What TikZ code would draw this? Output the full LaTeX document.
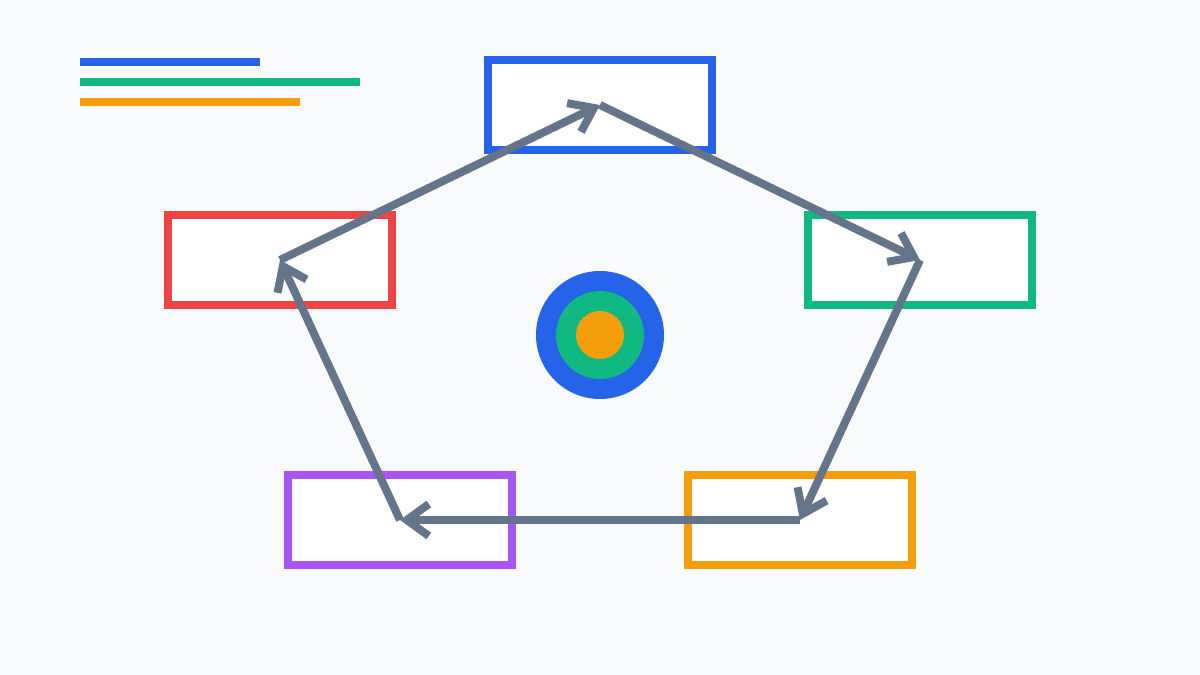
\documentclass[tikz,border=0pt]{standalone}
\usetikzlibrary{arrows.meta}
\definecolor{bgc}{HTML}{F8FAFC}
\definecolor{cblue}{HTML}{2563EB}
\definecolor{cgreen}{HTML}{10B981}
\definecolor{corange}{HTML}{F59E0B}
\definecolor{cred}{HTML}{EF4444}
\definecolor{cpurple}{HTML}{A855F7}
\definecolor{cgray}{HTML}{64748B}
\begin{document}
\begin{tikzpicture}[x=1pt,y=-1pt]
  \tikzset{stage/.style={draw,fill=white,line width=8pt,minimum width=224pt,minimum height=90pt,inner sep=0pt}}
  \tikzset{flow/.style={draw=cgray,line width=8pt,-{Straight Barb[sharp,length=22pt,width=32pt]}}}
  \tikzset{bar/.style={line width=8pt}}

  % Canvas
  \fill[bgc] (0,0) rectangle (1200,675);
  \useasboundingbox (0,0) rectangle (1200,675);

  % Legend bars
  \draw[bar,cblue]   (80,62)  -- (260,62);
  \draw[bar,cgreen]  (80,82)  -- (360,82);
  \draw[bar,corange] (80,102) -- (300,102);

  % Stages (pentagon)
  \node[stage,draw=cblue]   (top)   at (600,105) {};
  \node[stage,draw=cgreen]  (right) at (920,260) {};
  \node[stage,draw=corange] (botr)  at (800,520) {};
  \node[stage,draw=cpurple] (botl)  at (400,520) {};
  \node[stage,draw=cred]    (left)  at (280,260) {};

  % Hub
  \def\cx{600}
  \def\cy{335}
  \fill[cblue]   (\cx,\cy) circle (64);
  \fill[cgreen]  (\cx,\cy) circle (44);
  \fill[corange] (\cx,\cy) circle (24);

  % Cycle
  \draw[flow] (top.center)   -- (right.center);
  \draw[flow] (right.center) -- (botr.center);
  \draw[flow] (botr.center)  -- (botl.center);
  \draw[flow] (botl.center)  -- (left.center);
  \draw[flow] (left.center)  -- (top.center);
\end{tikzpicture}
\end{document}
